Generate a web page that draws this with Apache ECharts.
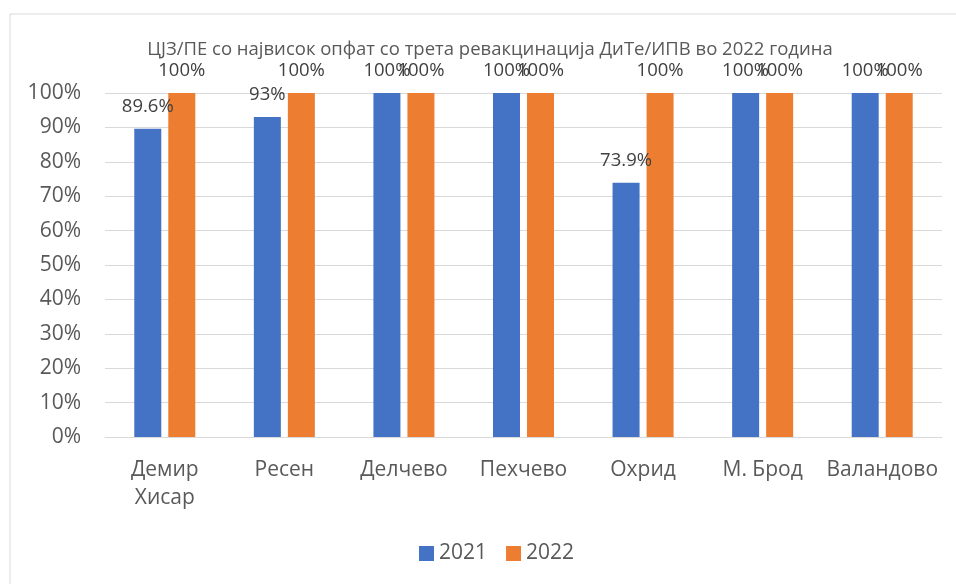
<!DOCTYPE html>
<html>
<head>
<meta charset="utf-8">
<script src="https://cdn.jsdelivr.net/npm/echarts@6/dist/echarts.min.js"></script>
<style>
  html, body { margin: 0; padding: 0; background: #fff; }
  #chart { width: 956px; height: 584px; }
</style>
</head>
<body>
<div id="chart"></div>
<script>
// data
const categories = ['Демир\nХисар', 'Ресен', 'Делчево', 'Пехчево', 'Охрид', 'М. Брод', 'Валандово'];
const values2021 = [89.6, 93, 100, 100, 73.9, 100, 100];
const values2022 = [100, 100, 100, 100, 100, 100, 100];
const yTicks = [0, 10, 20, 30, 40, 50, 60, 70, 80, 90, 100];

const font = '"Open Sans", "Noto Sans", sans-serif';
const grey = '#595959';

const chart = echarts.init(document.getElementById('chart'));

const barLabel = {
  show: true,
  position: 'top',
  distance: 13,
  color: '#404040',
  fontSize: 18.5,
  fontFamily: font,
  formatter: p => p.value + '%'
};

chart.setOption({
  animation: false,
  graphic: [{
    type: 'rect',
    shape: { x: 10, y: 14, width: 960, height: 600 },
    style: { fill: 'none', stroke: '#d9d9d9', lineWidth: 1 },
    silent: true
  }],
  title: {
    text: 'ЦЈЗ/ПЕ со највисок опфат со трета ревакцинација ДиТе/ИПВ во 2022 година',
    left: 485,
    textAlign: 'center',
    top: 35,
    textStyle: { color: grey, fontSize: 18.5, fontWeight: 'normal', fontFamily: font }
  },
  legend: {
    data: ['2021', '2022'],
    left: 414,
    top: 538,
    itemWidth: 15,
    itemHeight: 15,
    itemGap: 19,
    icon: 'rect',
    textStyle: { color: grey, fontSize: 21, fontFamily: font }
  },
  grid: { left: 105, right: 14, top: 93, bottom: 147 },
  xAxis: {
    type: 'category',
    data: categories,
    axisLine: { lineStyle: { color: '#d9d9d9' } },
    axisTick: { show: false },
    axisLabel: { color: grey, fontSize: 21, fontFamily: font, margin: 19, lineHeight: 28, interval: 0 }
  },
  yAxis: {
    type: 'value',
    min: 0,
    max: 100,
    interval: 10,
    axisLine: { show: false },
    axisTick: { show: false },
    splitLine: { lineStyle: { color: '#d9d9d9' } },
    axisLabel: {
      color: grey, fontSize: 21, fontFamily: font, margin: 24,
      formatter: v => yTicks.includes(v) ? v + '%' : ''
    }
  },
  series: [
    {
      name: '2021',
      type: 'bar',
      data: values2021,
      barWidth: 27,
      barGap: '26%',
      itemStyle: { color: '#4472c4' },
      label: barLabel
    },
    {
      name: '2022',
      type: 'bar',
      data: values2022,
      barWidth: 27,
      barGap: '26%',
      itemStyle: { color: '#ed7d31' },
      label: barLabel
    }
  ]
});
</script>
</body>
</html>
